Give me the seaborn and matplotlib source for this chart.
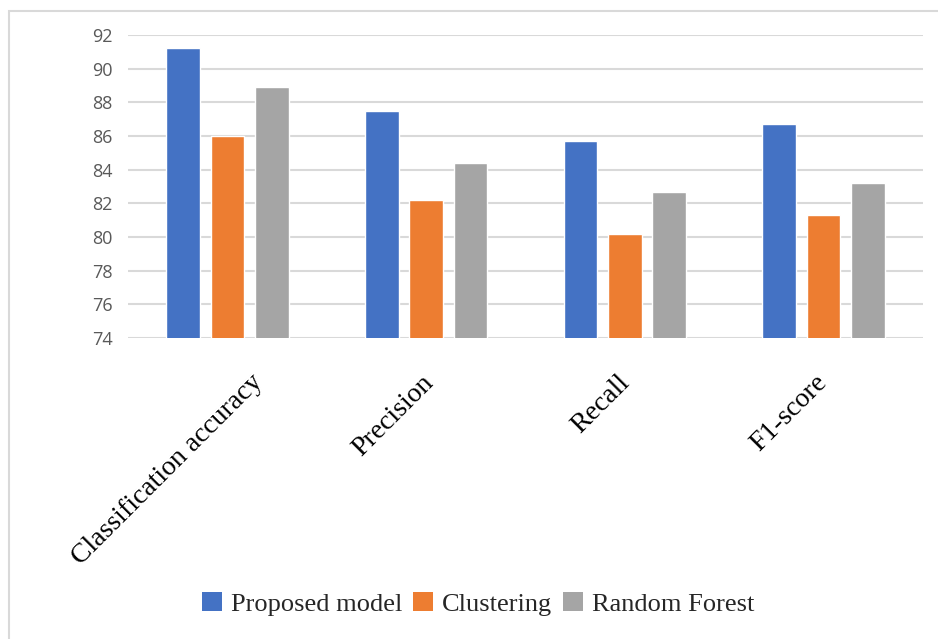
import matplotlib
matplotlib.use("Agg")
import matplotlib.pyplot as plt
import matplotlib.transforms as mtransforms
from matplotlib.patches import Rectangle
import numpy as np
import pandas as pd
import seaborn as sns

# Metric categories and scores per method
metrics = ["Classification accuracy", "Precision", "Recall", "F1-score"]
methods = ["Proposed model", "Clustering", "Random Forest"]
proposed_model = [91.2, 87.5, 85.7, 86.7]
clustering = [86.0, 82.2, 80.2, 81.3]
random_forest = [88.9, 84.4, 82.7, 83.2]
y_ticks = [74, 76, 78, 80, 82, 84, 86, 88, 90, 92]

colors = ["#4472C4", "#ED7D31", "#A5A5A5"]

df = pd.DataFrame({
    "Metric": metrics * 3,
    "Method": [methods[0]] * 4 + [methods[1]] * 4 + [methods[2]] * 4,
    "Score": proposed_model + clustering + random_forest,
})

sns.set_theme(style="white")

fig = plt.figure(figsize=(9.38, 6.39), dpi=100)
fig.patch.set_facecolor("white")

# Light chart-area border
fig.add_artist(Rectangle((9 / 938, -0.05), 1.2, 1 - 11 / 639 + 0.05,
                         transform=fig.transFigure, fill=False,
                         edgecolor="#D9D9D9", linewidth=1.5, zorder=0))

ax = fig.add_axes([128 / 938, 1 - 338 / 639, (923 - 128) / 938, (338 - 35) / 639])

sns.barplot(data=df, x="Metric", y="Score", hue="Method", order=metrics,
            hue_order=methods, palette=colors, width=0.67, gap=0.24,
            saturation=1, legend=False, ax=ax, zorder=3)

ax.set_ylim(74, 92)
ax.set_xlim(-0.5, len(metrics) - 0.5)
ax.set_yticks(y_ticks)
ax.set_yticklabels([str(t) for t in y_ticks], fontfamily="Open Sans",
                   fontsize=13, color="#595959")
ax.yaxis.grid(True, color="#D9D9D9", linewidth=1.5, zorder=0)
ax.set_axisbelow(True)
for s in ax.spines.values():
    s.set_visible(False)
ax.tick_params(axis="y", length=0, pad=11)
ax.tick_params(axis="x", length=0, pad=23)
ax.set_xlabel("")
ax.set_ylabel("")

ax.set_xticks(range(len(metrics)))
ax.set_xticklabels(metrics, rotation=45, ha="right", va="top",
                   rotation_mode="anchor", fontfamily="Liberation Serif",
                   fontsize=20, color="black")
shifts = [23, -5, -8, -9]
for lab, dx in zip(ax.get_xticklabels(), shifts):
    lab.set_transform(lab.get_transform() +
                      mtransforms.ScaledTranslation(dx / 100, 0, fig.dpi_scale_trans))

handles = [Rectangle((0, 0), 1, 1, facecolor=c, edgecolor="none") for c in colors]
fig.legend(handles, methods, loc="center", bbox_to_anchor=(0.51, 1 - 604 / 639),
           ncol=3, frameon=False, handlelength=0.75, handleheight=0.75,
           handletextpad=0.35, columnspacing=0.4,
           prop={"family": "Liberation Serif", "size": 19})

fig.savefig("out.png", dpi=100, facecolor="white")
